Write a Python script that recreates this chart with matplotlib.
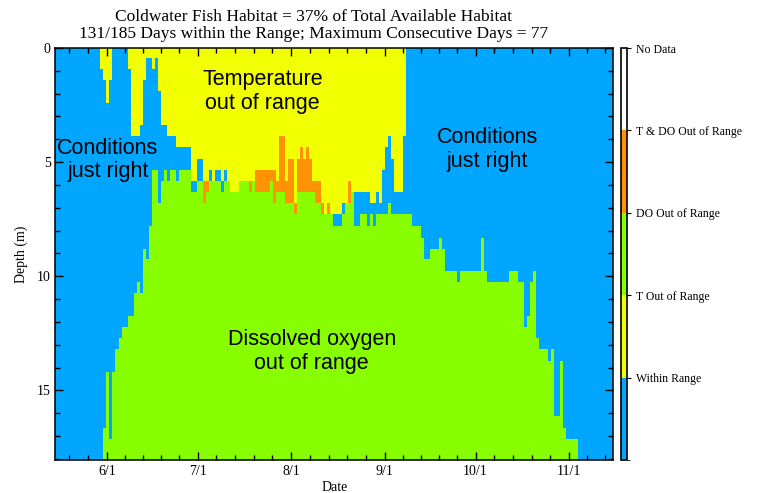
import numpy as np
import matplotlib
matplotlib.use("Agg")
import matplotlib.pyplot as plt
from matplotlib.colors import ListedColormap, BoundaryNorm
from matplotlib.cm import ScalarMappable

# days counted from 15 May, one column per day
start = np.datetime64("2014-05-15")
n_days = 185
z_bottom = 18.05

# depth (m) down to which temperature is out of range, as (n_days, depth) runs
temp_runs = [
    (15, 0), (1, 0.95), (1, 1.43), (1, 2.43), (1, 1.43), (5, 0), (1, 0.95),
    (3, 3.89), (1, 3.4), (1, 1.43), (2, 0.48), (1, 0.95), (1, 0.48), (1, 1.94),
    (2, 3.4), (3, 3.89), (5, 4.39), (2, 5.86), (2, 4.91), (1, 6.81), (1, 6.35),
    (1, 5.38), (1, 5.86), (2, 5.38), (1, 5.86), (1, 5.38), (1, 5.86), (3, 6.35),
    (3, 5.86), (1, 6.35), (1, 5.86), (5, 6.35), (1, 5.86), (1, 6.81), (3, 6.35),
    (3, 6.81), (1, 7.32), (6, 6.35), (2, 6.81), (7, 7.32), (3, 6.81), (6, 6.35),
    (1, 6.81), (1, 6.81), (1, 6.35), (1, 6.81), (1, 5.38), (1, 4.39), (1, 3.89),
    (1, 4.91), (3, 6.35), (1, 3.89), (69, 0),
]

# depth (m) below which dissolved oxygen is out of range (nan = never)
do_runs = [
    (16, np.nan), (1, 16.65), (1, 14.2), (1, 17.12), (1, 14.2), (1, 13.2),
    (1, 12.7), (2, 12.22), (2, 11.74), (1, 10.76), (1, 10.26), (1, 10.76),
    (1, 8.82), (1, 9.27), (1, 7.84), (2, 5.38), (1, 6.81), (1, 5.86), (1, 5.38),
    (1, 5.86), (2, 5.38), (1, 5.86), (4, 5.38), (2, 6.35), (8, 5.86), (1, 6.35),
    (2, 5.86), (3, 6.35), (5, 5.86), (7, 5.38), (1, 5.86), (2, 3.89), (1, 5.86),
    (2, 4.91), (1, 6.81), (1, 4.91), (1, 4.39), (1, 4.91), (1, 4.39), (1, 4.91),
    (3, 5.86), (1, 6.81), (1, 7.32), (1, 6.81), (1, 7.32), (3, 7.84), (1, 7.32),
    (1, 6.81), (1, 5.86), (1, 6.35), (2, 7.84), (2, 7.32), (1, 7.84), (1, 7.32),
    (1, 7.84), (4, 7.32), (1, 6.81), (7, 7.32), (3, 7.84), (1, 8.35), (2, 9.27),
    (3, 8.82), (1, 8.35), (1, 8.82), (4, 9.77), (1, 10.26), (7, 9.77), (1, 8.35),
    (1, 9.77), (7, 10.26), (3, 9.77), (2, 10.26), (1, 12.22), (1, 11.74),
    (1, 10.26), (1, 9.77), (1, 12.7), (3, 13.2), (1, 13.73), (1, 13.2),
    (2, 16.13), (1, 13.73), (1, 16.65), (4, 17.12), (12, np.nan),
]

cat_labels = ["Within Range", "T Out of Range", "DO Out of Range",
              "T & DO Out of Range", "No Data"]
cat_colors = ["#00a6ff", "#f2ff00", "#88ff00", "#ff9305", "#ffffff"]

tick_months = ["2014-06-01", "2014-07-01", "2014-08-01", "2014-09-01",
               "2014-10-01", "2014-11-01"]
tick_labels = ["6/1", "7/1", "8/1", "9/1", "10/1", "11/1"]

title = ("Coldwater Fish Habitat = 37% of Total Available Habitat\n"
         "131/185 Days within the Range; Maximum Consecutive Days = 77")


def expand(runs):
    return np.concatenate([np.full(n, v, dtype=float) for n, v in runs])


t_depth = expand(temp_runs)
o_depth = expand(do_runs)
assert len(t_depth) == n_days and len(o_depth) == n_days

z = np.arange(0, z_bottom, 0.01) + 0.005
with np.errstate(invalid="ignore"):
    t_out = z[:, None] < t_depth[None, :]
    do_out = z[:, None] >= o_depth[None, :]
cat = t_out.astype(int) + 2 * do_out.astype(int)

serif = ["Liberation Serif", "DejaVu Serif"]
sans = ["Liberation Sans", "DejaVu Sans"]

fig = plt.figure(figsize=(7.57, 4.93), dpi=100)
ax = fig.add_axes([0.0733, 0.0669, 0.7365, 0.8357])
cax = fig.add_axes([0.8200, 0.0669, 0.0087, 0.8357])

cmap = ListedColormap(cat_colors)
norm = BoundaryNorm(np.arange(0, 6), cmap.N)

ax.imshow(cat + 0.5, cmap=cmap, norm=norm, aspect="auto",
          interpolation="nearest", origin="upper",
          extent=[0, n_days, z_bottom, 0])

# date ticks, minor ticks split each month in five
x_max = 184.5
offs = lambda d: (np.datetime64(d) - start).astype(int)
ax.set_xticks([offs(d) for d in tick_months])
ax.set_xticklabels(tick_labels, family=serif, fontsize=10)
minor = []
for m in range(5, 12):
    m0 = offs("2014-%02d-01" % m)
    m1 = offs("2014-%02d-01" % (m + 1))
    minor += [m0 + k * (m1 - m0) / 5 for k in range(1, 5)]
minor = [t for t in minor if 0 < t < x_max]
ax.set_xticks(minor, minor=True)

ax.set_yticks([0, 5, 10, 15])
ax.set_yticklabels(["0", "5", "10", "15"], family=serif, fontsize=10)
ax.set_yticks(np.arange(0, 19), minor=True)

ax.set_xlim(0, x_max)
ax.set_ylim(z_bottom, 0)

ax.tick_params(which="both", direction="in", top=True, right=True, width=1)
ax.tick_params(which="major", length=6)
ax.tick_params(which="minor", length=3.5)
for s in ax.spines.values():
    s.set_linewidth(1.1)

ax.set_xlabel("Date", family=serif, fontsize=10, labelpad=2)
ax.set_ylabel("Depth (m)", family=serif, fontsize=10, labelpad=6)

fig.text(0.414, 0.982, title, ha="center", va="top", family=serif,
         fontsize=12.5, linespacing=1.12)

notes = [
    (68.5, 1.9, "Temperature\nout of range"),
    (17.3, 4.9, "Conditions\njust right"),
    (142.9, 4.45, "Conditions\njust right"),
    (84.8, 13.3, "Dissolved oxygen\nout of range"),
]
for x, y, s in notes:
    ax.text(x, y, s, ha="center", va="center", family=sans, fontsize=15.5,
            linespacing=1.15)

cb = fig.colorbar(ScalarMappable(norm=norm, cmap=cmap), cax=cax,
                  ticks=[1, 2, 3, 4, 5])
cb.set_ticklabels(cat_labels)
cb.outline.set_linewidth(1.2)
cax.tick_params(length=3, width=0.8, pad=3)
for lab in cax.get_yticklabels():
    lab.set_family(serif)
    lab.set_fontsize(8.5)

fig.savefig("out.png", dpi=100)
